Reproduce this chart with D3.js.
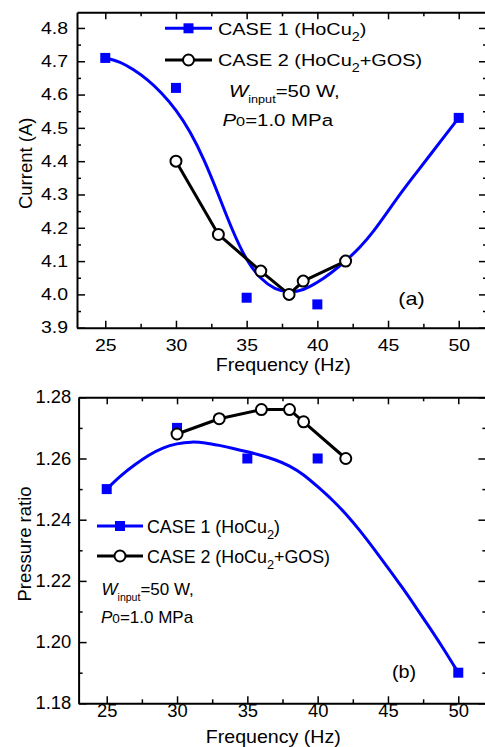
<!DOCTYPE html>
<html>
<head>
<meta charset="utf-8">
<script src="https://cdn.jsdelivr.net/npm/d3@7"></script>
<style>
  html, body { margin: 0; padding: 0; background: #fff; }
  svg { display: block; font-family: "Liberation Sans", Arial, sans-serif; }
</style>
</head>
<body>
<svg id="chart" width="485" height="747"></svg>
<script>
// ---------- DATA ----------
const xTicks = [25, 30, 35, 40, 45, 50];
const xMinorTicks = [27.5, 32.5, 37.5, 42.5, 47.5];

// Panel (a): current
const freqA1 = [25, 30, 35, 40, 50];
const currentA1 = [4.71, 4.62, 3.99, 3.97, 4.53];
const freqA2 = [30, 33, 36, 38, 39, 42];
const currentA2 = [4.40, 4.18, 4.07, 4.00, 4.04, 4.10];
const fitFreqA = [25, 26, 27, 28, 29, 30, 31, 32, 33, 34, 35, 36, 37, 38, 39, 40, 41, 42, 43, 44, 45, 46, 47, 48, 49, 50];
const fitCurrentA = [4.71, 4.70, 4.675, 4.645, 4.605, 4.555, 4.49, 4.405, 4.30, 4.19, 4.10, 4.045, 4.015, 4.005, 4.012, 4.035, 4.065, 4.10, 4.14, 4.19, 4.25, 4.31, 4.365, 4.42, 4.475, 4.53];
const yTicksA = [3.9, 4.0, 4.1, 4.2, 4.3, 4.4, 4.5, 4.6, 4.7, 4.8];
const yMinorA = [3.95, 4.05, 4.15, 4.25, 4.35, 4.45, 4.55, 4.65, 4.75];

// Panel (b): pressure ratio
const freqB1 = [25, 30, 35, 40, 50];
const ratioB1 = [1.25, 1.27, 1.26, 1.26, 1.19];
const freqB2 = [30, 33, 36, 38, 39, 42];
const ratioB2 = [1.268, 1.273, 1.276, 1.276, 1.272, 1.260];
const fitFreqB = [25, 26, 27, 28, 29, 30, 31, 32, 33, 34, 35, 36, 37, 38, 39, 40, 41, 42, 43, 44, 45, 46, 47, 48, 49, 50];
const fitRatioB = [1.25, 1.2545, 1.258, 1.2612, 1.2636, 1.2649, 1.2655, 1.2652, 1.2643, 1.2633, 1.2622, 1.261, 1.2596, 1.2577, 1.2548, 1.2508, 1.2467, 1.242, 1.2365, 1.2305, 1.2243, 1.218, 1.2113, 1.2045, 1.1975, 1.19];
const yTicksB = [1.18, 1.20, 1.22, 1.24, 1.26, 1.28];
const yMinorB = [1.19, 1.21, 1.23, 1.25, 1.27];

const legendLabels = ["CASE 1 (HoCu", "CASE 2 (HoCu"];

// ---------- DRAW ----------
const svg = d3.select("#chart");
const BLUE = "#0000ff";

function stretch(sel, k) {
  sel.each(function () {
    const t = d3.select(this);
    const x0 = +t.attr("x") || 0;
    t.attr("transform", `translate(${x0},0) scale(${k},1) translate(${-x0},0)`);
  });
}

function panel(cfg) {
  const g = svg.append("g");
  const x = d3.scaleLinear().domain([23, 52]).range([cfg.x0, cfg.x1]);
  const y = d3.scaleLinear().domain(cfg.yDomain).range([cfg.yB, cfg.yT]);

  const styleAxis = (a) => {
    a.attr("font-family", null).attr("font-size", null);
    a.select(".domain").attr("stroke-width", 2);
    a.selectAll(".tick line").attr("stroke-width", 1.5);
  };

  // bottom axis
  const bx = g.append("g").attr("transform", `translate(0,${cfg.yB})`)
    .call(d3.axisBottom(x).tickValues(xTicks).tickSize(-7).tickSizeOuter(0).tickFormat(d3.format("d")));
  styleAxis(bx);
  bx.selectAll("text").attr("dy", null).attr("y", cfg.xLabelY)
    .attr("font-size", cfg.tickFont).attr("fill", "#000");
  stretch(bx.selectAll("text"), cfg.tickScale);
  g.append("g").attr("transform", `translate(0,${cfg.yB})`)
    .call(d3.axisBottom(x).tickValues(xMinorTicks).tickSize(-4).tickSizeOuter(0).tickFormat(""))
    .call(a => { a.select(".domain").remove(); a.selectAll("line").attr("stroke-width", 1.5); });

  // top axis
  const tx = g.append("g").attr("transform", `translate(0,${cfg.yT})`)
    .call(d3.axisTop(x).tickValues(xTicks).tickSize(-7).tickSizeOuter(0).tickFormat(""));
  styleAxis(tx);
  g.append("g").attr("transform", `translate(0,${cfg.yT})`)
    .call(d3.axisTop(x).tickValues(xMinorTicks).tickSize(-4).tickSizeOuter(0).tickFormat(""))
    .call(a => { a.select(".domain").remove(); a.selectAll("line").attr("stroke-width", 1.5); });

  // left axis
  const ly = g.append("g").attr("transform", `translate(${cfg.x0},0)`)
    .call(d3.axisLeft(y).tickValues(cfg.yTicks).tickSize(-8).tickSizeOuter(0).tickPadding(cfg.yPad).tickFormat(d3.format(cfg.yFmt)));
  styleAxis(ly);
  ly.selectAll("text").attr("font-size", cfg.tickFont).attr("fill", "#000");
  stretch(ly.selectAll("text"), cfg.tickScale);
  g.append("g").attr("transform", `translate(${cfg.x0},0)`)
    .call(d3.axisLeft(y).tickValues(cfg.yMinor).tickSize(-4).tickSizeOuter(0).tickFormat(""))
    .call(a => { a.select(".domain").remove(); a.selectAll("line").attr("stroke-width", 1.5); });

  // right axis
  const ry = g.append("g").attr("transform", `translate(${cfg.x1},0)`)
    .call(d3.axisRight(y).tickValues(cfg.yTicks).tickSize(-8).tickSizeOuter(0).tickFormat(""));
  styleAxis(ry);
  g.append("g").attr("transform", `translate(${cfg.x1},0)`)
    .call(d3.axisRight(y).tickValues(cfg.yMinor).tickSize(-4).tickSizeOuter(0).tickFormat(""))
    .call(a => { a.select(".domain").remove(); a.selectAll("line").attr("stroke-width", 1.5); });

  // axis titles
  const xt = g.append("text").attr("x", cfg.xTitleX).attr("y", cfg.xTitleY)
    .attr("text-anchor", "middle").attr("font-size", 18.5).text("Frequency (Hz)");
  stretch(xt, 1.06);
  g.append("text").attr("transform", `translate(${cfg.yTitleX},${cfg.yTitleY}) rotate(-90)`)
    .attr("text-anchor", "middle").attr("font-size", 18.5).text(cfg.yTitle);

  // fitted blue curve
  const fitData = cfg.fitF.map((f, i) => [f, cfg.fitV[i]]);
  g.append("path").datum(fitData)
    .attr("fill", "none").attr("stroke", BLUE).attr("stroke-width", 3)
    .attr("d", d3.line().x(d => x(d[0])).y(d => y(d[1])).curve(d3.curveBasis));

  // case 2 black line
  const c2 = cfg.f2.map((f, i) => [f, cfg.v2[i]]);
  g.append("path").datum(c2)
    .attr("fill", "none").attr("stroke", "#000").attr("stroke-width", 3)
    .attr("stroke-linejoin", "round")
    .attr("d", d3.line().x(d => x(d[0])).y(d => y(d[1])));

  // case 1 squares
  g.selectAll(".sq").data(cfg.f1.map((f, i) => [f, cfg.v1[i]])).join("rect")
    .attr("x", d => x(d[0]) - 5).attr("y", d => y(d[1]) - 5)
    .attr("width", 10).attr("height", 10).attr("fill", BLUE);

  // case 2 circles
  g.selectAll(".ci").data(c2).join("circle")
    .attr("cx", d => x(d[0])).attr("cy", d => y(d[1])).attr("r", 5.5)
    .attr("fill", "#fff").attr("stroke", "#000").attr("stroke-width", 2);

  // legend
  const L = cfg.legend;
  [0, 1].forEach(i => {
    const ly0 = L.y[i];
    g.append("line").attr("x1", L.lx1).attr("x2", L.lx2).attr("y1", ly0).attr("y2", ly0)
      .attr("stroke", i === 0 ? BLUE : "#000").attr("stroke-width", 3);
    const mx = (L.lx1 + L.lx2) / 2;
    if (i === 0) {
      g.append("rect").attr("x", mx - 5).attr("y", ly0 - 5).attr("width", 10).attr("height", 10).attr("fill", BLUE);
    } else {
      g.append("circle").attr("cx", mx).attr("cy", ly0).attr("r", 5.5)
        .attr("fill", "#fff").attr("stroke", "#000").attr("stroke-width", 2);
    }
    const t = g.append("text").attr("x", L.tx).attr("y", ly0 + L.dy).attr("font-size", L.font);
    t.append("tspan").text(legendLabels[i]);
    t.append("tspan").attr("dy", 6).attr("font-size", L.font * 0.72).text("2");
    t.append("tspan").attr("dy", -6).text(i === 0 ? ")" : "+GOS)");
    stretch(t, L.scale);
  });

  // annotation
  const A = cfg.annot;
  const w = g.append("text").attr("x", A.wx).attr("y", A.wy).attr("font-size", A.font);
  w.append("tspan").attr("font-style", "italic").text("W");
  w.append("tspan").attr("dy", 6).attr("font-size", A.font * 0.62).text("input");
  w.append("tspan").attr("dy", -6).text("=50 W,");
  stretch(w, A.scale);
  const p = g.append("text").attr("x", A.px).attr("y", A.py).attr("font-size", A.font);
  p.append("tspan").attr("font-style", "italic").text("P");
  p.append("tspan").attr("font-size", A.font * 0.8).text("0");
  p.append("tspan").text("=1.0 MPa");
  stretch(p, A.scale);

  // panel label
  const pl = g.append("text").attr("x", cfg.label.x).attr("y", cfg.label.y)
    .attr("text-anchor", "middle").attr("font-size", 18).text(cfg.label.text);
  stretch(pl, cfg.label.scale);
}

panel({
  x0: 77, x1: 487, yT: 12.3, yB: 327.7,
  yDomain: [3.9, 4.847],
  yTicks: yTicksA, yMinor: yMinorA, yFmt: ".1f", yPad: 9,
  tickFont: 16.5, tickScale: 1.18, xLabelY: 23,
  xTitleX: 283.3, xTitleY: 371,
  yTitle: "Current (A)", yTitleX: 31.5, yTitleY: 163.3,
  fitF: fitFreqA, fitV: fitCurrentA,
  f1: freqA1, v1: currentA1, f2: freqA2, v2: currentA2,
  legend: { lx1: 165, lx2: 212, y: [28.3, 60], tx: 218, dy: 6.5, font: 17, scale: 1.17 },
  annot: { wx: 229, wy: 96.7, px: 222.5, py: 126.5, font: 17, scale: 1.2 },
  label: { text: "(a)", x: 411.5, y: 305, scale: 1.2 }
});

panel({
  x0: 78.6, x1: 486.4, yT: 397.3, yB: 703.3,
  yDomain: [1.18, 1.28],
  yTicks: yTicksB, yMinor: yMinorB, yFmt: ".2f", yPad: 7.3,
  tickFont: 17.5, tickScale: 1.05, xLabelY: 13.5,
  xTitleX: 273.3, xTitleY: 743,
  yTitle: "Pressure ratio", yTitleX: 30.5, yTitleY: 544,
  fitF: fitFreqB, fitV: fitRatioB,
  f1: freqB1, v1: ratioB1, f2: freqB2, v2: ratioB2,
  legend: { lx1: 97, lx2: 143, y: [526, 556], tx: 147, dy: 7, font: 17.5, scale: 1.02 },
  annot: { wx: 101.5, wy: 595, px: 101, py: 623, font: 17, scale: 1.0 },
  label: { text: "(b)", x: 404, y: 678, scale: 1.1 }
});
</script>
</body>
</html>
